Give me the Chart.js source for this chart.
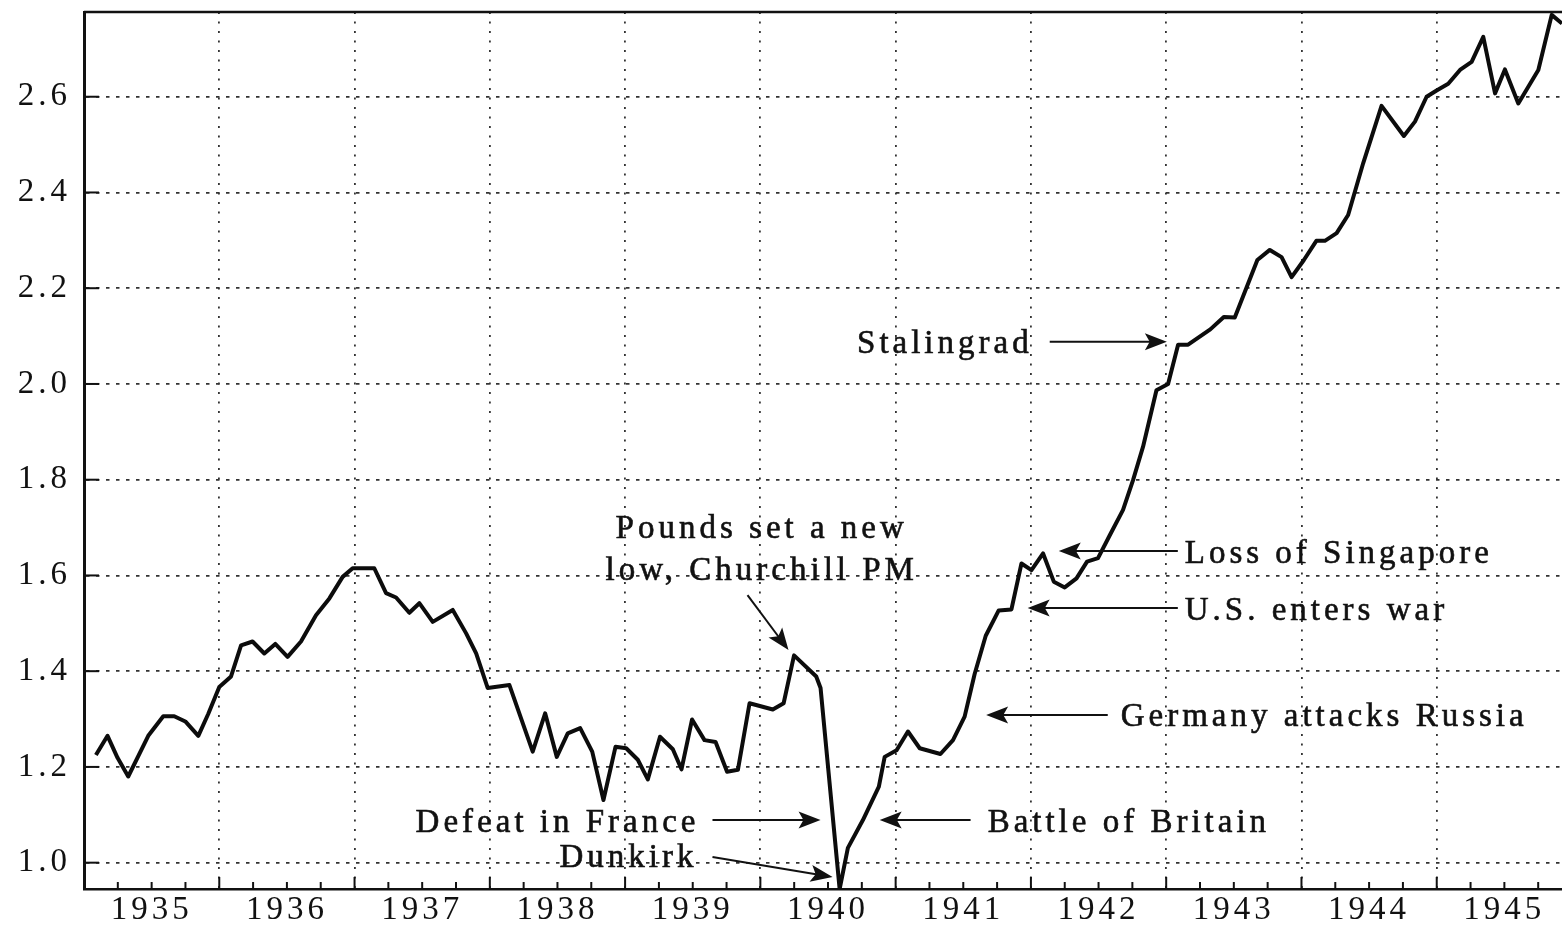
<!DOCTYPE html>
<html>
<head>
<meta charset="utf-8">
<title>Pound 1935-1945</title>
<script src="https://cdn.jsdelivr.net/npm/chart.js@4.4.1/dist/chart.umd.min.js"></script>
<style>
  html, body { margin: 0; padding: 0; background: #fff; }
  #wrap { position: relative; width: 1562px; height: 928px; }
</style>
</head>
<body>
<div id="wrap"><canvas id="chart"></canvas></div>
<script>
"use strict";

// dates as fractional years, one entry per vertex of the line
var dates = [
    1935.088, 1935.174, 1935.248, 1935.327, 1935.475, 1935.586, 1935.667, 1935.749, 1935.845, 1935.919,
    1936.000, 1936.087, 1936.161, 1936.246, 1936.333, 1936.414, 1936.505, 1936.604, 1936.715, 1936.814,
    1936.912, 1936.986, 1937.146, 1937.233, 1937.307, 1937.405, 1937.479, 1937.578, 1937.726, 1937.825,
    1937.899, 1937.984, 1938.145, 1938.317, 1938.409, 1938.495, 1938.576, 1938.668, 1938.757, 1938.840,
    1938.929, 1939.008, 1939.094, 1939.168, 1939.258, 1939.353, 1939.417, 1939.495, 1939.587, 1939.669,
    1939.754, 1939.834, 1939.920, 1940.092, 1940.172, 1940.249, 1940.413, 1940.445, 1940.586, 1940.647,
    1940.758, 1940.876, 1940.919, 1941.007, 1941.091, 1941.178, 1941.331, 1941.424, 1941.510, 1941.584,
    1941.666, 1941.762, 1941.856, 1941.930, 1942.004, 1942.090, 1942.169, 1942.250, 1942.337, 1942.415,
    1942.496, 1942.583, 1942.681, 1942.755, 1942.829, 1942.928, 1943.014, 1943.088, 1943.162, 1943.326,
    1943.426, 1943.507, 1943.674, 1943.766, 1943.853, 1943.927, 1944.018, 1944.110, 1944.173, 1944.260,
    1944.345, 1944.456, 1944.592, 1944.757, 1944.839, 1944.925, 1944.999, 1945.085, 1945.172, 1945.258,
    1945.344, 1945.431, 1945.504, 1945.603, 1945.677, 1945.751, 1945.850, 1945.926
];

var values = [
    1.225, 1.265, 1.219, 1.180, 1.265, 1.306, 1.306, 1.295, 1.265, 1.311,
    1.367, 1.389, 1.454, 1.462, 1.437, 1.457, 1.430, 1.462, 1.517, 1.552,
    1.597, 1.615, 1.615, 1.563, 1.554, 1.522, 1.542, 1.503, 1.528, 1.479,
    1.437, 1.365, 1.371, 1.232, 1.312, 1.221, 1.270, 1.281, 1.232, 1.131,
    1.242, 1.239, 1.215, 1.174, 1.263, 1.237, 1.195, 1.299, 1.256, 1.252,
    1.190, 1.194, 1.333, 1.320, 1.333, 1.433, 1.389, 1.365, 0.945, 1.031,
    1.089, 1.159, 1.221, 1.235, 1.274, 1.239, 1.227, 1.256, 1.305, 1.394,
    1.474, 1.527, 1.529, 1.625, 1.611, 1.646, 1.587, 1.575, 1.594, 1.629,
    1.636, 1.684, 1.737, 1.799, 1.869, 1.987, 2.000, 2.082, 2.082, 2.114,
    2.140, 2.139, 2.259, 2.280, 2.265, 2.223, 2.259, 2.299, 2.299, 2.315,
    2.353, 2.461, 2.581, 2.518, 2.548, 2.600, 2.613, 2.627, 2.656, 2.673,
    2.725, 2.607, 2.657, 2.586, 2.621, 2.656, 2.771, 2.753
];

var years = [1935, 1936, 1937, 1938, 1939, 1940, 1941, 1942, 1943, 1944, 1945];
var valueTicks = [1.0, 1.2, 1.4, 1.6, 1.8, 2.0, 2.2, 2.4, 2.6];

var xMin = 1935, xMax = 1945.926;
var yMin = 0.945, yMax = 2.777;

var notes = [
    { text: "Pounds set a new",       x: 1940.010, y: 1.678, align: "center" },
    { text: "low, Churchill PM",      x: 1940.010, y: 1.590, align: "center" },
    { text: "Stalingrad",             x: 1942.013, y: 2.065, align: "right" },
    { text: "Loss of Singapore",      x: 1943.137, y: 1.626, align: "left" },
    { text: "U.S. enters war",        x: 1943.137, y: 1.507, align: "left" },
    { text: "Germany attacks Russia", x: 1942.664, y: 1.2855, align: "left" },
    { text: "Battle of Britain",      x: 1941.680, y: 1.064, align: "left" },
    { text: "Defeat in France",       x: 1939.550, y: 1.064, align: "right" },
    { text: "Dunkirk",                x: 1939.535, y: 0.991, align: "right" }
];

// [tail, tip]
var arrows = [
    [[1939.905, 1.559], [1940.208, 1.444]],
    [[1942.139, 2.088], [1943.005, 2.088]],
    [[1943.086, 1.651], [1942.206, 1.651]],
    [[1943.086, 1.532], [1941.976, 1.532]],
    [[1942.568, 1.3085], [1941.669, 1.3085]],
    [[1941.554, 1.089], [1940.882, 1.089]],
    [[1939.646, 1.089], [1940.445, 1.089]],
    [[1939.646, 1.012], [1940.534, 0.970]]
];

var INK = "#111";
var FONT = "'Liberation Serif', 'Times New Roman', serif";
var SPACING = "4px";

var quarterTicks = [];
years.forEach(function(y) {
    [0, 0.25, 0.5, 0.75].forEach(function(q) {
        if (y + q > xMin) quarterTicks.push({ value: y + q });
    });
});

var points = dates.map(function(d, i) { return { x: d, y: values[i] }; });

function drawArrow(ctx, x0, y0, x1, y1) {
    var ang = Math.atan2(y1 - y0, x1 - x0);
    var len = 22, half = 8.5;
    ctx.beginPath();
    ctx.moveTo(x0, y0);
    ctx.lineTo(x1 - Math.cos(ang) * len * 0.7, y1 - Math.sin(ang) * len * 0.7);
    ctx.stroke();
    ctx.save();
    ctx.translate(x1, y1);
    ctx.rotate(ang);
    ctx.beginPath();
    ctx.moveTo(0, 0);
    ctx.lineTo(-len, -half);
    ctx.lineTo(-len * 0.78, 0);
    ctx.lineTo(-len, half);
    ctx.closePath();
    ctx.fill();
    ctx.restore();
}

var framePlugin = {
    id: "frame",
    beforeUpdate: function(chart) { chart.ctx.letterSpacing = SPACING; },
    beforeDraw: function(chart) { chart.ctx.letterSpacing = SPACING; },
    afterDraw: function(chart) {
        var ctx = chart.ctx;
        var area = chart.chartArea;
        var sx = chart.scales.x, sy = chart.scales.y;

        ctx.save();
        ctx.strokeStyle = INK;
        ctx.fillStyle = INK;

        // top frame line
        ctx.lineWidth = 2.5;
        ctx.beginPath();
        ctx.moveTo(area.left, area.top);
        ctx.lineTo(area.right, area.top);
        ctx.stroke();

        // tick marks point into the plot
        ctx.lineWidth = 2;
        sx.ticks.forEach(function(t) {
            var px = sx.getPixelForValue(t.value);
            var len = Number.isInteger(t.value) ? 12 : 7;
            ctx.beginPath();
            ctx.moveTo(px, area.bottom);
            ctx.lineTo(px, area.bottom - len);
            ctx.stroke();
        });
        sy.ticks.forEach(function(t) {
            var py = sy.getPixelForValue(t.value);
            ctx.beginPath();
            ctx.moveTo(area.left, py);
            ctx.lineTo(area.left + 15, py);
            ctx.stroke();
        });

        ctx.font = "33px " + FONT;
        ctx.letterSpacing = SPACING;
        ctx.textBaseline = "alphabetic";
        ctx.lineWidth = 0.6;
        notes.forEach(function(n) {
            var px = sx.getPixelForValue(n.x), py = sy.getPixelForValue(n.y);
            ctx.textAlign = n.align;
            ctx.fillText(n.text, px, py);
            ctx.strokeText(n.text, px, py);
        });

        ctx.lineWidth = 2;
        arrows.forEach(function(a) {
            drawArrow(ctx,
                sx.getPixelForValue(a[0][0]), sy.getPixelForValue(a[0][1]),
                sx.getPixelForValue(a[1][0]), sy.getPixelForValue(a[1][1]));
        });
        ctx.restore();
    }
};

var chart = new Chart(document.getElementById("chart"), {
    type: "line",
    data: {
        datasets: [{
            data: points,
            borderColor: "#0c0c0c",
            borderWidth: 4,
            borderJoinStyle: "round",
            pointRadius: 0,
            tension: 0,
            fill: false
        }]
    },
    options: {
        responsive: true,
        maintainAspectRatio: false,
        animation: false,
        layout: { padding: { top: 12, right: 0, bottom: 0, left: 0 } },
        plugins: {
            legend: { display: false },
            tooltip: { enabled: false }
        },
        scales: {
            x: {
                type: "linear",
                min: xMin,
                max: xMax,
                afterBuildTicks: function(scale) {
                    scale.ticks = quarterTicks.map(function(t) { return { value: t.value }; });
                },
                afterFit: function(scale) {
                    scale.height = 39;
                    scale.paddingLeft = 0;
                    scale.paddingRight = 0;
                },
                ticks: {
                    autoSkip: false,
                    maxRotation: 0,
                    minRotation: 0,
                    padding: 2,
                    color: INK,
                    font: { family: FONT, size: 33 },
                    callback: function(v) {
                        return (v % 1 === 0.5) ? String(Math.floor(v)) : "";
                    }
                },
                grid: {
                    drawTicks: false,
                    lineWidth: 1.8,
                    color: function(c) {
                        return (c.tick && Number.isInteger(c.tick.value)) ? "#333" : "rgba(0,0,0,0)";
                    }
                },
                border: { color: INK, width: 2.5, dash: [2, 7.5] }
            },
            y: {
                type: "linear",
                min: yMin,
                max: yMax,
                afterBuildTicks: function(scale) {
                    scale.ticks = valueTicks.map(function(v) { return { value: v }; });
                },
                afterFit: function(scale) {
                    scale.width = 84;
                    scale.paddingTop = 0;
                    scale.paddingBottom = 0;
                },
                ticks: {
                    padding: 13,
                    color: INK,
                    font: { family: FONT, size: 33 },
                    callback: function(v) { return Number(v).toFixed(1); }
                },
                grid: { drawTicks: false, lineWidth: 1.8, color: "#333" },
                border: { color: INK, width: 3, dash: [3.5, 6.5] }
            }
        }
    },
    plugins: [framePlugin]
});
</script>
</body>
</html>
